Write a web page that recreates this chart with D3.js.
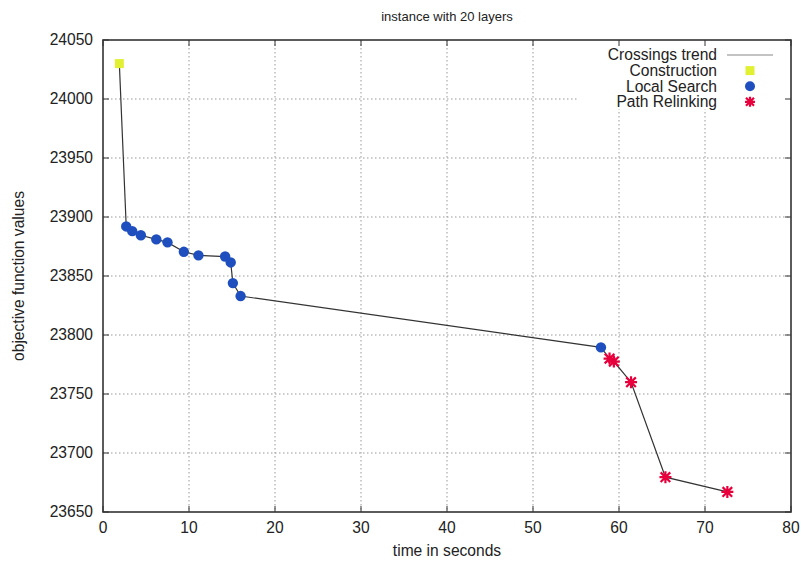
<!DOCTYPE html>
<html>
<head>
<meta charset="utf-8">
<script src="https://cdn.jsdelivr.net/npm/d3@7"></script>
<style>
  body { margin: 0; background: white; }
  text { font-family: "Liberation Sans", Arial, sans-serif; fill: #222; }
</style>
</head>
<body>
<svg width="801" height="561"></svg>
<script>
var xTicks = [0, 10, 20, 30, 40, 50, 60, 70, 80];
var yTicks = [23650, 23700, 23750, 23800, 23850, 23900, 23950, 24000, 24050];

var constructionTime = [1.9];
var constructionValue = [24030];

var localTime = [2.7, 3.4, 4.4, 6.2, 7.5, 9.4, 11.1, 14.2, 14.85, 15.1, 16.0, 57.9];
var localValue = [23892, 23888, 23884.5, 23881, 23878.5, 23870.5, 23867.5, 23866.5, 23861.5, 23844, 23833, 23789.5];

var relinkTime = [58.9, 59.4, 61.4, 65.4, 72.6];
var relinkValue = [23780, 23777.5, 23760, 23679.5, 23667];

var legendLabels = ["Crossings trend", "Construction", "Local Search", "Path Relinking"];

var svg = d3.select("svg");
// note: "top" is taken by window.top, so plot edges get their own names
var pLeft = 103, pRight = 791, pTop = 40, pBottom = 512;
var fs = 15.6;

var xScale = d3.scaleLinear().domain([0, 80]).range([pLeft, pRight]);
var yScale = d3.scaleLinear().domain([23650, 24050]).range([pBottom, pTop]);

function pts(t, v){ return t.map(function(d, i){ return {x: d, y: v[i]}; }); }
var construction = pts(constructionTime, constructionValue);
var local = pts(localTime, localValue);
var relink = pts(relinkTime, relinkValue);
var trend = construction.concat(local, relink);

// grid
svg.append("g").selectAll("line").data(yTicks.slice(1, -1)).join("line")
    .attr("x1", pLeft).attr("x2", pRight)
    .attr("y1", d => yScale(d)).attr("y2", d => yScale(d))
    .attr("stroke", "#999").attr("stroke-dasharray", "1.5,2.5");
svg.append("g").selectAll("line").data(xTicks.slice(1, -1)).join("line")
    .attr("x1", d => xScale(d)).attr("x2", d => xScale(d))
    .attr("y1", pTop).attr("y2", pBottom)
    .attr("stroke", "#999").attr("stroke-dasharray", "1.5,2.5");

// legend box hides the grid
svg.append("rect").attr("x", 577).attr("y", pTop).attr("width", pRight - 577).attr("height", 69)
    .attr("fill", "white");

// ticks (inward, mirrored)
var tl = 6;
svg.append("g").selectAll("line").data(yTicks).join("line")
    .attr("x1", pLeft).attr("x2", pLeft + tl)
    .attr("y1", d => yScale(d)).attr("y2", d => yScale(d)).attr("stroke", "#333");
svg.append("g").selectAll("line").data(yTicks).join("line")
    .attr("x1", pRight).attr("x2", pRight - tl)
    .attr("y1", d => yScale(d)).attr("y2", d => yScale(d)).attr("stroke", "#333");
svg.append("g").selectAll("line").data(xTicks).join("line")
    .attr("x1", d => xScale(d)).attr("x2", d => xScale(d))
    .attr("y1", pBottom).attr("y2", pBottom - tl).attr("stroke", "#333");
svg.append("g").selectAll("line").data(xTicks).join("line")
    .attr("x1", d => xScale(d)).attr("x2", d => xScale(d))
    .attr("y1", pTop).attr("y2", pTop + tl).attr("stroke", "#333");

// border
svg.append("rect").attr("x", pLeft).attr("y", pTop)
    .attr("width", pRight - pLeft).attr("height", pBottom - pTop)
    .attr("fill", "none").attr("stroke", "#333").attr("stroke-width", 1.6);

// tick labels
svg.append("g").selectAll("text").data(yTicks).join("text")
    .attr("x", pLeft - 10).attr("y", d => yScale(d)).attr("dy", "0.35em")
    .attr("text-anchor", "end").attr("font-size", fs).text(d => d);
svg.append("g").selectAll("text").data(xTicks).join("text")
    .attr("x", d => xScale(d)).attr("y", pBottom + 21)
    .attr("text-anchor", "middle").attr("font-size", fs).text(d => d);

// titles
svg.append("text").attr("x", (pLeft + pRight) / 2).attr("y", 21)
    .attr("text-anchor", "middle").attr("font-size", 13).text("instance with 20 layers");
svg.append("text").attr("x", (pLeft + pRight) / 2).attr("y", 556)
    .attr("text-anchor", "middle").attr("font-size", fs).text("time in seconds");
svg.append("text").attr("transform", "translate(24," + ((pTop + pBottom) / 2) + ") rotate(-90)")
    .attr("text-anchor", "middle").attr("font-size", fs).text("objective function values");

// trend line
var line = d3.line().x(d => xScale(d.x)).y(d => yScale(d.y));
svg.append("path").datum(trend).attr("d", line)
    .attr("fill", "none").attr("stroke", "#333").attr("stroke-width", 1.2);

var yellow = "#e2f034", blue = "#1f4fbf", red = "#e8003c";

function star(g, x, y, s){
    g.append("path")
      .attr("d", "M" + (x - s) + "," + y + "H" + (x + s) + "M" + x + "," + (y - s) + "V" + (y + s) +
                 "M" + (x - s * 0.8) + "," + (y - s * 0.8) + "L" + (x + s * 0.8) + "," + (y + s * 0.8) +
                 "M" + (x - s * 0.8) + "," + (y + s * 0.8) + "L" + (x + s * 0.8) + "," + (y - s * 0.8))
      .attr("stroke", red).attr("stroke-width", 2.2).attr("fill", "none");
}

svg.append("g").selectAll("circle").data(local).join("circle")
    .attr("cx", d => xScale(d.x)).attr("cy", d => yScale(d.y)).attr("r", 5.2)
    .attr("fill", blue);
svg.append("g").selectAll("rect").data(construction).join("rect")
    .attr("x", d => xScale(d.x) - 4.5).attr("y", d => yScale(d.y) - 4.5)
    .attr("width", 9).attr("height", 9).attr("fill", yellow);
var rg = svg.append("g");
relink.forEach(function(d){ star(rg, xScale(d.x), yScale(d.y), 6); });

// legend
var lg = svg.append("g");
legendLabels.forEach(function(t, i){
    var y = 55 + i * 15.6;
    lg.append("text").attr("x", 717).attr("y", y).attr("dy", "0.35em")
      .attr("text-anchor", "end").attr("font-size", fs).text(t);
});
lg.append("line").attr("x1", 727).attr("x2", 773).attr("y1", 55).attr("y2", 55)
    .attr("stroke", "#888").attr("stroke-width", 1.2);
lg.append("rect").attr("x", 745.5).attr("y", 70.6 - 4.5).attr("width", 9).attr("height", 9).attr("fill", yellow);
lg.append("circle").attr("cx", 750).attr("cy", 86.2).attr("r", 5).attr("fill", blue);
star(lg, 750, 101.8, 5);
</script>
</body>
</html>
